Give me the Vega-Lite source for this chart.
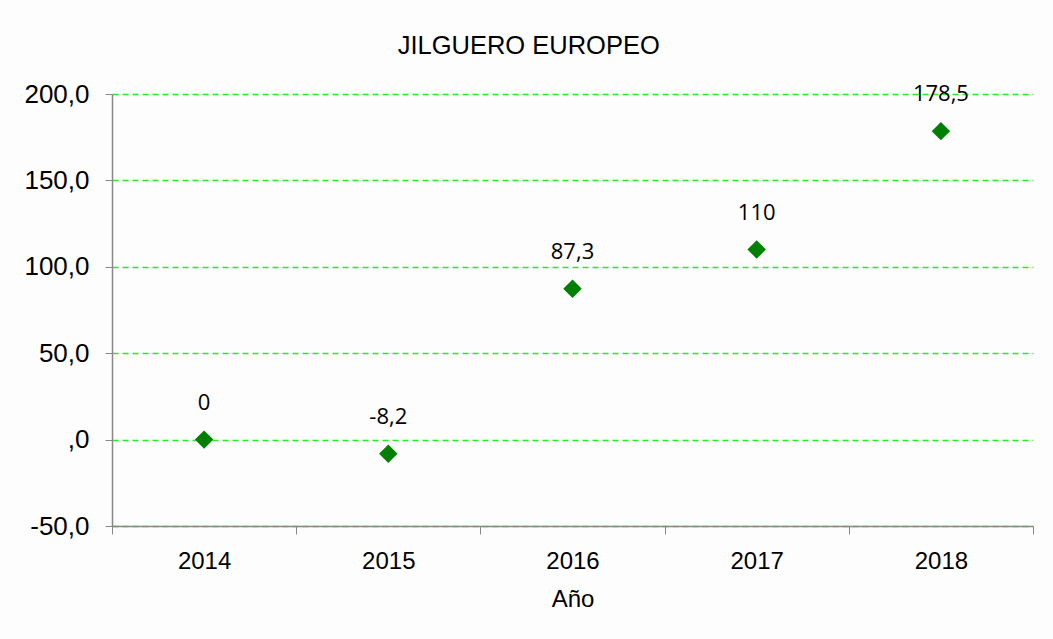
{
  "$schema": "https://vega.github.io/schema/vega-lite/v6.json",
  "autosize": {"type": "none"},
  "padding": {"left": 112, "top": 94, "right": 20, "bottom": 113},
  "width": 921,
  "height": 432,
  "background": "#fdfdfd",
  "config": {
    "view": {"stroke": null},
    "locale": {"number": {"decimal": ",", "thousands": ".", "grouping": [3], "currency": ["", " €"], "minus": "-"}},
    "font": "Liberation Sans"
  },
  "title": {
    "text": "JILGUERO EUROPEO",
    "font": "Liberation Sans",
    "fontSize": 25.5,
    "fontWeight": "normal",
    "color": "#000000",
    "anchor": "middle",
    "frame": "bounds",
    "offset": 22
  },
  "data": {
    "values": [
      {"year": "2014", "value": 0},
      {"year": "2015", "value": -8.2},
      {"year": "2016", "value": 87.3},
      {"year": "2017", "value": 110},
      {"year": "2018", "value": 178.5}
    ]
  },
  "encoding": {
    "x": {
      "field": "year",
      "type": "ordinal",
      "scale": {"type": "band", "paddingInner": 0, "paddingOuter": 0},
      "axis": {
        "title": "Año",
        "titleFont": "Liberation Sans",
        "titleFontSize": 24,
        "titleFontWeight": "normal",
        "titleColor": "#000000",
        "titlePadding": 14,
        "labelAngle": 0,
        "labelFont": "Liberation Sans",
        "labelFontSize": 24,
        "labelColor": "#000000",
        "labelPadding": 15,
        "tickBand": "extent",
        "tickSize": 8,
        "tickColor": "#888888",
        "domainColor": "#888888",
        "domainWidth": 1.5,
        "grid": false
      }
    },
    "y": {
      "field": "value",
      "type": "quantitative",
      "scale": {"domain": [-50, 200], "nice": false, "zero": false},
      "axis": {
        "title": null,
        "values": [-50, 0, 50, 100, 150, 200],
        "format": ".1f",
        "labelExpr": "datum.value === 0 ? ',0' : datum.label",
        "labelFont": "Liberation Sans",
        "labelFontSize": 26,
        "labelColor": "#000000",
        "labelPadding": 16,
        "tickSize": 7,
        "tickColor": "#888888",
        "domainColor": "#888888",
        "domainWidth": 1.5,
        "grid": true,
        "gridColor": "#22ee22",
        "gridDash": [6, 4],
        "gridWidth": 1.5
      }
    }
  },
  "layer": [
    {
      "mark": {"type": "point", "shape": "diamond", "filled": true, "size": 340, "color": "#008000", "opacity": 1}
    },
    {
      "mark": {"type": "text", "dy": -37, "font": "Open Sans", "fontSize": 22, "color": "#000000"},
      "encoding": {
        "text": {"field": "value", "type": "quantitative", "format": ".4~r"}
      }
    }
  ]
}
